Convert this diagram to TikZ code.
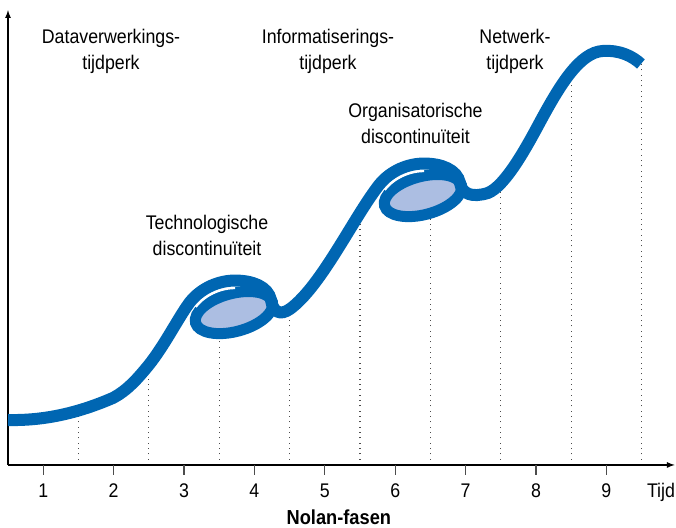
\documentclass[tikz,border=0pt]{standalone}
\usepackage{fontspec}
\setmainfont{Liberation Sans}[FakeStretch=0.9]
\usepackage{tikz}
\usepackage{xcolor}
\definecolor{nolanblue}{RGB}{0,102,178}
\definecolor{ringfill}{RGB}{172,190,226}

\begin{document}
\begin{tikzpicture}[x=52.8pt,y=52.8pt,
  curve/.style={line width=9pt,draw=nolanblue},
  gap/.style={line width=13pt,draw=white},
  ring/.style={line width=8.25pt,draw=nolanblue,fill=ringfill},
  era/.style={align=center,font=\fontsize{14.8}{19.5}\selectfont},
  phase/.style={anchor=base,font=\fontsize{14.8}{17}\selectfont}]
\useasboundingbox (-0.1136,-0.895) rectangle (9.489,6.605);
% dotted phase borders up to the curve
\foreach \x/\h in {1/0.78,2/1.40,3/1.86,4/2.22,5/3.55,6/3.58,7/4.03,8/5.57,9/5.69}
  \draw[gray!60!black,line width=0.8pt,dash pattern=on 0.8pt off 3.2pt] (\x,0) -- (\x,\h);
% axes and ticks
\draw[line width=1pt,-latex] (0,0) -- (0,6.46);
\draw[line width=1pt,-latex] (0,0) -- (9.47,0);
\foreach \n in {1,...,9} {
  \draw[black!70,line width=0.8pt] (\n-0.5,0) -- (\n-0.5,-0.14);
  \node[phase] (p\n) at (\n-0.5,-0.455) {\n};
}
\node[phase] (tijd) at (9.276,-0.455) {Tijd};
\node[anchor=base,font=\fontsize{15.2}{17}\selectfont\bfseries] (fasen) at (4.70,-0.852) {Nolan-fasen};
% the two discontinuities
\draw[ring,rotate around={15:(3.210,2.165)}] (3.210,2.165) ellipse (0.565 and 0.27);
\draw[ring,rotate around={15:(5.895,3.827)}] (5.895,3.827) ellipse (0.565 and 0.27);
\draw[gap] (2.585,2.315) .. controls (2.756,2.528) and (3.011,2.620) .. (3.224,2.620);
\draw[gap] (5.270,3.977) .. controls (5.440,4.190) and (5.696,4.282) .. (5.909,4.282);
% growth curve
\draw[curve] (0,0.639)
  .. controls (0.597,0.625) and (1.094,0.781) .. (1.491,0.952)
  .. controls (1.705,1.065) and (1.847,1.236) .. (1.989,1.406)
  .. controls (2.230,1.705) and (2.415,2.088) .. (2.585,2.315)
  .. controls (2.756,2.528) and (3.011,2.620) .. (3.224,2.620)
  .. controls (3.466,2.620) and (3.693,2.540) .. (3.736,2.344)
  .. controls (3.764,2.173) and (3.864,2.116) .. (4.006,2.216)
  .. controls (4.450,2.540) and (4.900,3.500) .. (5.270,3.977)
  .. controls (5.440,4.190) and (5.696,4.282) .. (5.909,4.282)
  .. controls (6.151,4.282) and (6.378,4.200) .. (6.420,4.006)
  .. controls (6.449,3.849) and (6.591,3.793) .. (6.818,3.864)
  .. controls (7.060,3.963) and (7.344,4.474) .. (7.557,4.872)
  .. controls (7.841,5.398) and (8.125,5.866) .. (8.452,5.881)
  .. controls (8.693,5.895) and (8.864,5.810) .. (8.991,5.696);
% labels
\node[era] (dataera) at (1.463,5.881) {Dataverwerkings-\\tijdperk};
\node[era] (infoera) at (4.545,5.881) {Informatiserings-\\tijdperk};
\node[era] (netera) at (7.202,5.881) {Netwerk-\\tijdperk};
\node[era] (techgap) at (2.827,3.267) {Technologische\\discontinuïteit};
\node[era] (orggap) at (5.788,4.858) {Organisatorische\\discontinuïteit};
\end{tikzpicture}
\end{document}
